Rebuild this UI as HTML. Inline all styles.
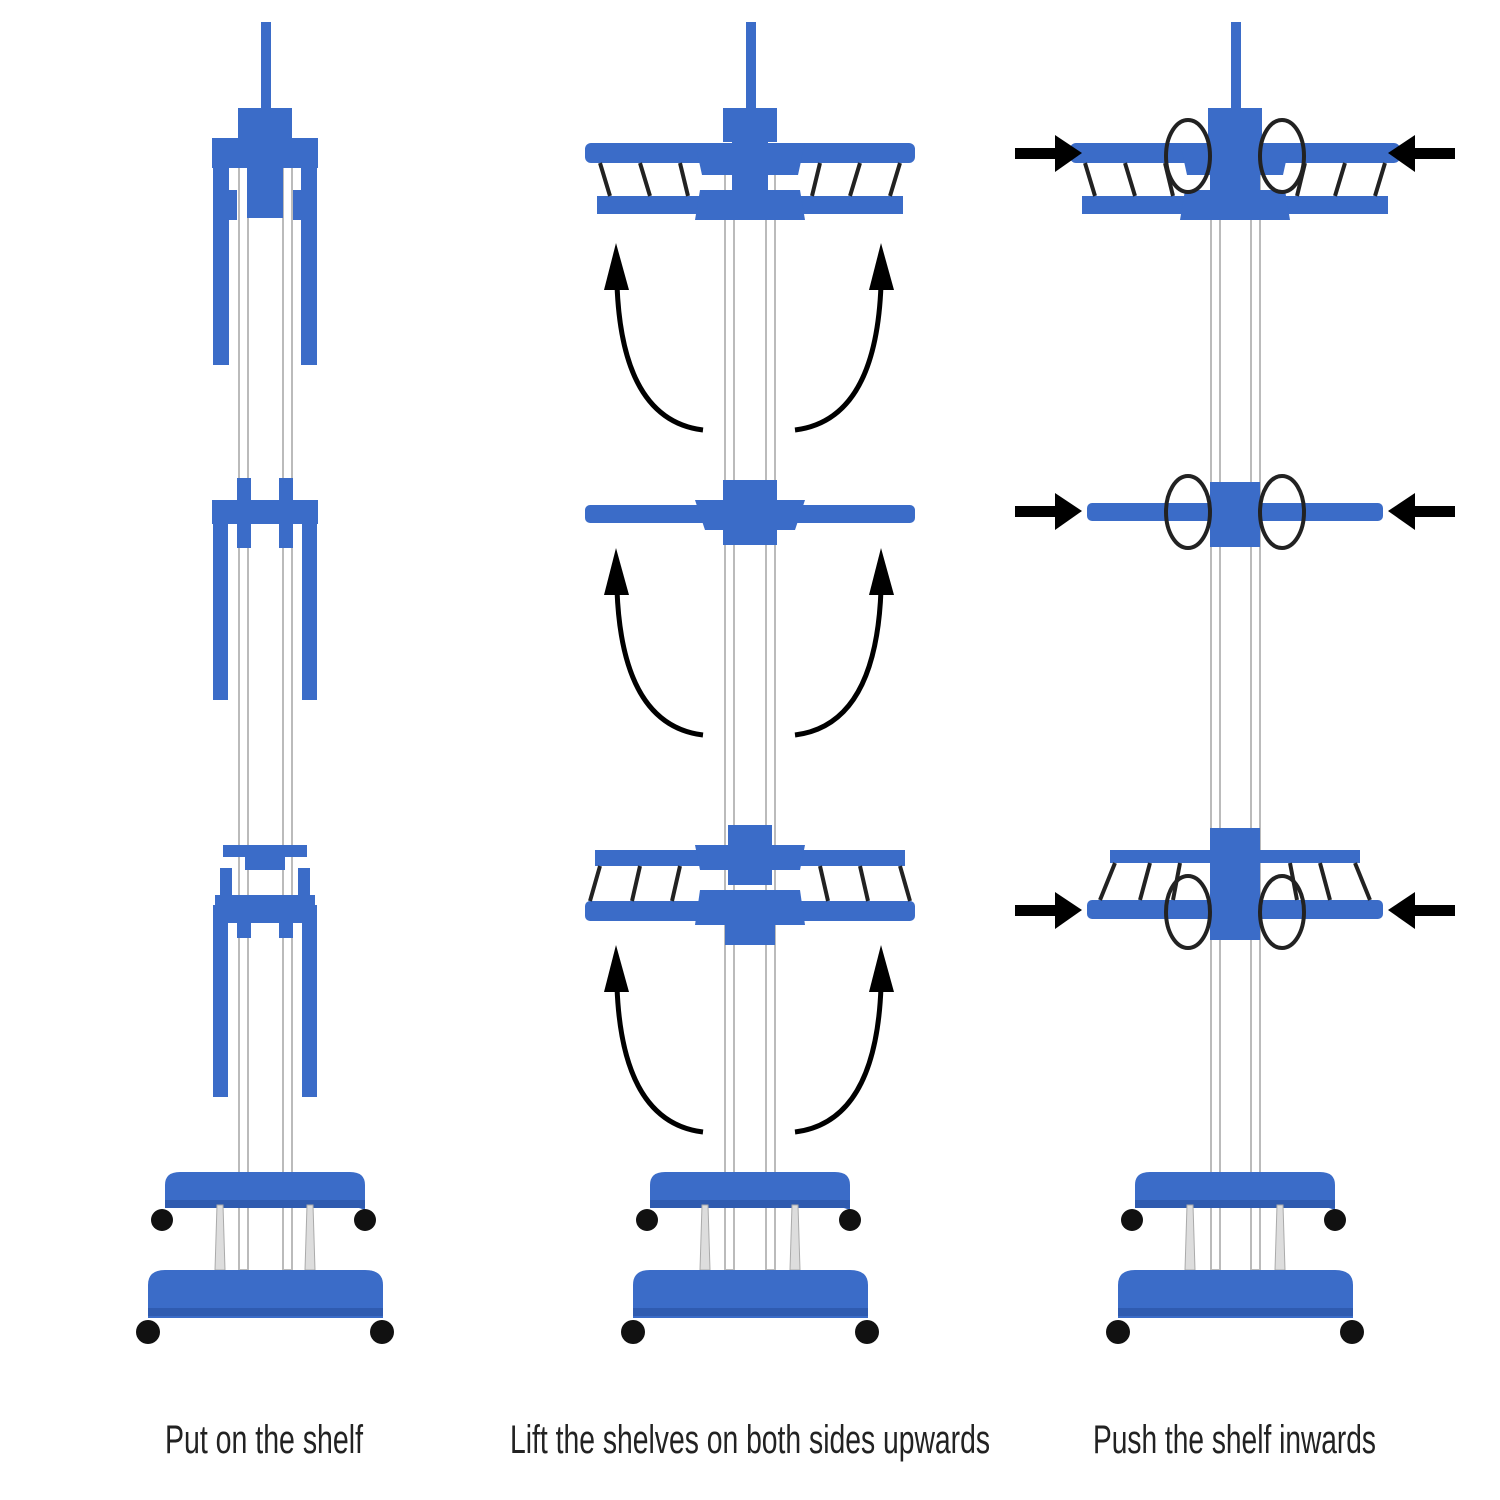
<!DOCTYPE html>
<html><head><meta charset="utf-8"><style>
html,body{margin:0;padding:0;background:#fff;width:1500px;height:1500px;overflow:hidden}
svg{display:block}
</style></head><body>
<svg width="1500" height="1500" viewBox="0 0 1500 1500" xmlns="http://www.w3.org/2000/svg">
<defs>
<g id="arrowsL">
<path d="M703,430 Q622,420 617,285" fill="none" stroke="#000" stroke-width="5"/>
<polygon points="616,243 604,290 629,290" fill="#000"/>
<path d="M795,430 Q876,420 881,285" fill="none" stroke="#000" stroke-width="5"/>
<polygon points="881,243 869,290 894,290" fill="#000"/>
</g>
<g id="base">
<path d="M-100,1205 L-100,1185 Q-100,1172 -85,1172 L85,1172 Q100,1172 100,1185 L100,1210 L85,1205 Z" fill="#3b6cc8"/>
<rect x="-100" y="1200" width="200" height="8" fill="#2f5bb0"/>
<circle cx="-103" cy="1220" r="11" fill="#111"/>
<circle cx="100" cy="1220" r="11" fill="#111"/>
<polygon points="-48,1205 -42,1205 -40,1270 -50,1270" fill="#ddd" stroke="#aaa"/>
<polygon points="42,1205 48,1205 50,1270 40,1270" fill="#ddd" stroke="#aaa"/>
<path d="M-117,1318 L-117,1285 Q-117,1270 -100,1270 L100,1270 Q118,1270 118,1285 L118,1318 Z" fill="#3b6cc8"/>
<rect x="-117" y="1308" width="235" height="8" fill="#2f5bb0"/>
<circle cx="-117" cy="1332" r="12" fill="#111"/>
<circle cx="117" cy="1332" r="12" fill="#111"/>
</g>
<g id="top">
<rect x="-4" y="22" width="10" height="86" fill="#3b6cc8"/>
<rect x="-27" y="108" width="54" height="34" fill="#3b6cc8"/>
<rect x="-18" y="140" width="36" height="78" fill="#3b6cc8"/>
</g>
<g id="rungsH">
<rect x="-165" y="143" width="330" height="20" rx="6" fill="#3b6cc8"/>
<rect x="-153" y="196" width="306" height="18" fill="#3b6cc8"/>
<g stroke="#222" stroke-width="4">
<line x1="-150" y1="163" x2="-140" y2="196"/><line x1="-110" y1="163" x2="-100" y2="196"/><line x1="-70" y1="163" x2="-62" y2="196"/>
<line x1="150" y1="163" x2="140" y2="196"/><line x1="110" y1="163" x2="100" y2="196"/><line x1="70" y1="163" x2="62" y2="196"/>
</g>
<polygon points="-55,143 55,143 48,175 -48,175" fill="#3b6cc8"/>
<polygon points="-50,190 50,190 55,220 -55,220" fill="#3b6cc8"/>
</g>
</defs>

<!-- poles -->
<g fill="#fff" stroke="#bbb" stroke-width="2">
<rect x="239" y="150" width="9" height="1120"/><rect x="283" y="150" width="9" height="1120"/>
<rect x="725" y="150" width="9" height="1120"/><rect x="766" y="150" width="9" height="1120"/>
<rect x="1211" y="150" width="9" height="1120"/><rect x="1251" y="150" width="9" height="1120"/>
</g>

<!-- LEFT tower -->
<g transform="translate(265,0)">
<use href="#top"/>
<use href="#base"/>
<rect x="-53" y="138" width="106" height="30" fill="#3b6cc8"/>
<rect x="-52" y="158" width="16" height="207" fill="#3b6cc8"/>
<rect x="36" y="158" width="16" height="207" fill="#3b6cc8"/>
<rect x="-40" y="190" width="12" height="30" fill="#3b6cc8"/><rect x="28" y="190" width="12" height="30" fill="#3b6cc8"/>
<!-- middle -->
<rect x="-28" y="478" width="14" height="30" fill="#3b6cc8"/><rect x="14" y="478" width="14" height="30" fill="#3b6cc8"/>
<rect x="-53" y="500" width="106" height="24" fill="#3b6cc8"/>
<rect x="-52" y="515" width="15" height="185" fill="#3b6cc8"/>
<rect x="37" y="515" width="15" height="185" fill="#3b6cc8"/>
<rect x="-28" y="520" width="14" height="28" fill="#3b6cc8"/><rect x="14" y="520" width="14" height="28" fill="#3b6cc8"/>
<!-- bottom -->
<rect x="-42" y="845" width="84" height="12" fill="#3b6cc8"/>
<rect x="-20" y="845" width="40" height="25" fill="#3b6cc8"/>
<rect x="-45" y="868" width="12" height="30" fill="#3b6cc8"/><rect x="33" y="868" width="12" height="30" fill="#3b6cc8"/>
<rect x="-50" y="895" width="100" height="28" fill="#3b6cc8"/>
<rect x="-52" y="905" width="15" height="192" fill="#3b6cc8"/>
<rect x="37" y="905" width="15" height="192" fill="#3b6cc8"/>
<rect x="-28" y="920" width="14" height="18" fill="#3b6cc8"/><rect x="14" y="920" width="14" height="18" fill="#3b6cc8"/>
</g>

<!-- MIDDLE tower -->
<g transform="translate(750,0)">
<use href="#top"/>
<use href="#base"/>
<use href="#rungsH"/>
<rect x="-165" y="505" width="330" height="18" rx="5" fill="#3b6cc8"/>
<rect x="-27" y="480" width="54" height="65" fill="#3b6cc8"/>
<polygon points="-55,500 55,500 45,530 -45,530" fill="#3b6cc8"/>
<g transform="translate(0,705)">
<rect x="-155" y="145" width="310" height="16" fill="#3b6cc8"/>
<rect x="-165" y="196" width="330" height="20" rx="5" fill="#3b6cc8"/>
<g stroke="#222" stroke-width="4">
<line x1="-150" y1="161" x2="-160" y2="196"/><line x1="-110" y1="161" x2="-118" y2="196"/><line x1="-70" y1="161" x2="-78" y2="196"/>
<line x1="150" y1="161" x2="160" y2="196"/><line x1="110" y1="161" x2="118" y2="196"/><line x1="70" y1="161" x2="78" y2="196"/>
</g>
<rect x="-22" y="120" width="44" height="60" fill="#3b6cc8"/>
<polygon points="-55,140 55,140 50,165 -50,165" fill="#3b6cc8"/>
<polygon points="-50,185 50,185 55,220 -55,220" fill="#3b6cc8"/>
<rect x="-25" y="210" width="50" height="30" fill="#3b6cc8"/>
</g>
</g>
<use href="#arrowsL"/>
<use href="#arrowsL" transform="translate(0,305)"/>
<use href="#arrowsL" transform="translate(0,702)"/>

<!-- RIGHT tower -->
<g transform="translate(1235,0)">
<use href="#top"/>
<use href="#base"/>
<use href="#rungsH" transform="translate(0,0)"/>
<rect x="-25" y="110" width="50" height="110" fill="#3b6cc8"/>
<rect x="-148" y="503" width="296" height="18" rx="5" fill="#3b6cc8"/>
<rect x="-25" y="482" width="50" height="65" fill="#3b6cc8"/>
<rect x="-125" y="850" width="250" height="13" fill="#3b6cc8"/>
<rect x="-148" y="900" width="296" height="19" rx="5" fill="#3b6cc8"/>
<g stroke="#222" stroke-width="4">
<line x1="-120" y1="863" x2="-135" y2="900"/><line x1="-85" y1="863" x2="-95" y2="900"/><line x1="-55" y1="863" x2="-62" y2="900"/>
<line x1="120" y1="863" x2="135" y2="900"/><line x1="85" y1="863" x2="95" y2="900"/><line x1="55" y1="863" x2="62" y2="900"/>
</g>
<rect x="-25" y="828" width="50" height="112" fill="#3b6cc8"/>
<g fill="none" stroke="#222" stroke-width="4">
<ellipse cx="-47" cy="156" rx="22" ry="36"/><ellipse cx="47" cy="156" rx="22" ry="36"/>
<ellipse cx="-47" cy="512" rx="22" ry="36"/><ellipse cx="47" cy="512" rx="22" ry="36"/>
<ellipse cx="-47" cy="912" rx="22" ry="36"/><ellipse cx="47" cy="912" rx="22" ry="36"/>
</g>
</g>
<g fill="#000">
<rect x="1015" y="148" width="42" height="11"/><polygon points="1055,135 1082,153 1055,172"/>
<rect x="1413" y="148" width="42" height="11"/><polygon points="1415,135 1388,153 1415,172"/>
<rect x="1015" y="506" width="42" height="11"/><polygon points="1055,493 1082,511 1055,530"/>
<rect x="1413" y="506" width="42" height="11"/><polygon points="1415,493 1388,511 1415,530"/>
<rect x="1015" y="905" width="42" height="11"/><polygon points="1055,892 1082,910 1055,929"/>
<rect x="1413" y="905" width="42" height="11"/><polygon points="1415,892 1388,910 1415,929"/>
</g>

<g font-family="'Liberation Sans Narrow','Liberation Sans',sans-serif" font-size="40" fill="#222">
<text x="165" y="1453" textLength="198" lengthAdjust="spacingAndGlyphs">Put on the shelf</text>
<text x="510" y="1453" textLength="480" lengthAdjust="spacingAndGlyphs">Lift the shelves on both sides upwards</text>
<text x="1093" y="1453" textLength="283" lengthAdjust="spacingAndGlyphs">Push the shelf inwards</text>
</g>
</svg>
</body></html>
